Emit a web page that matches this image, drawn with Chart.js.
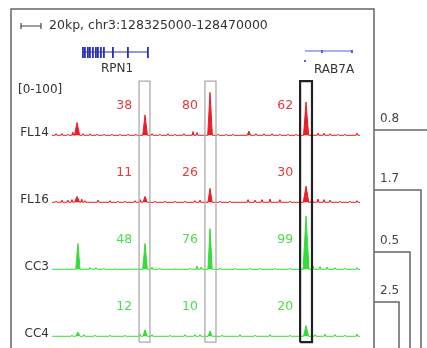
<!DOCTYPE html>
<html>
<head>
<meta charset="utf-8">
<script src="https://cdn.jsdelivr.net/npm/chart.js@4"></script>
<style>
  body { margin: 0; background: #fff; }
  canvas { display: block; }
</style>
</head>
<body>
<canvas id="tracks" width="427" height="348"></canvas>
<script>
// region shown, in kb on chr3
const regionStart = 128325;
const regionEnd = 128470;
const headerText = "20kp, chr3:128325000-128470000";
const rangeLabel = "[0-100]";

const trackNames = ["FL14", "FL16", "CC3", "CC4"];
const trackColors = ["#ee1c24", "#ee1c24", "#33dd33", "#33dd33"];
const textColors = ["#e8383d", "#e8383d", "#4cdc4c", "#4cdc4c"];
// each track gets its own slot on the y axis
const trackOffsets = [375, 250, 125, 0];

// peaks: [position kb, signal, half width kb]
const fl14Peaks = [
  [128326.9, 3], [128329.7, 3], [128332.5, 2], [128334.8, 6], [128336.8, 24, 1.2],
  [128339.6, 3], [128342.9, 3], [128346.2, 2], [128349.5, 2], [128353.2, 2],
  [128357.0, 2], [128360.8, 2], [128364.5, 2], [128368.8, 38, 1.1], [128372.1, 3],
  [128375.8, 2], [128379.6, 3], [128382.9, 2], [128387.1, 3], [128391.4, 7],
  [128393.3, 5], [128399.4, 80, 1.1], [128403.2, 2], [128406.9, 2], [128410.2, 2],
  [128417.7, 8, 0.8], [128421.0, 3], [128424.8, 3], [128428.6, 3], [128432.3, 2],
  [128436.1, 2], [128439.9, 2], [128444.6, 62, 1.2], [128447.4, 5], [128450.2, 4],
  [128453.1, 4], [128455.9, 3], [128459.6, 2], [128462.9, 2], [128468.6, 4]
];
const fl16Peaks = [
  [128326.9, 2], [128329.7, 4], [128332.5, 4], [128334.4, 5], [128336.8, 11, 1.2],
  [128339.0, 6], [128340.5, 3], [128346.7, 4], [128352.3, 3], [128356.1, 2],
  [128359.4, 2], [128364.1, 3], [128366.6, 5], [128368.8, 11, 1.0], [128373.5, 2],
  [128378.2, 2], [128382.9, 2], [128387.6, 2], [128392.3, 3], [128394.7, 4],
  [128399.4, 26, 1.0], [128404.1, 2], [128408.8, 2], [128417.3, 5], [128420.6, 4],
  [128423.9, 5], [128427.6, 6], [128432.3, 5], [128437.0, 2], [128444.6, 30, 1.3],
  [128447.4, 8], [128450.2, 6], [128453.1, 5], [128455.9, 4], [128460.6, 2],
  [128465.3, 2], [128468.6, 3]
];
const cc3Peaks = [
  [128337.2, 48, 1.0], [128342.9, 3], [128345.7, 3], [128349.5, 2], [128354.7, 1],
  [128361.7, 1], [128368.8, 48, 1.1], [128372.1, 4], [128375.8, 2], [128382.9, 1],
  [128390.0, 2], [128393.3, 6], [128395.2, 4], [128399.4, 76, 1.0], [128404.1, 2],
  [128411.2, 2], [128418.2, 2], [128422.9, 2], [128430.0, 2], [128437.0, 2],
  [128444.6, 99, 1.4], [128447.9, 6], [128451.2, 5], [128454.5, 4], [128458.2, 3],
  [128462.9, 2], [128468.6, 3]
];
const cc4Peaks = [
  [128334.4, 2], [128337.2, 8, 1.0], [128340.1, 3], [128345.2, 2], [128352.3, 2],
  [128359.4, 2], [128366.4, 4], [128368.8, 12, 1.0], [128372.1, 3], [128380.6, 2],
  [128387.6, 3], [128392.3, 3], [128394.7, 3], [128399.4, 10, 0.9], [128405.0, 2],
  [128413.5, 3], [128420.6, 2], [128427.6, 3], [128437.0, 2], [128444.6, 20, 1.2],
  [128448.8, 3], [128453.5, 4], [128458.2, 3], [128462.9, 2], [128468.6, 4]
];
const trackPeaks = [fl14Peaks, fl16Peaks, cc3Peaks, cc4Peaks];

// highlighted regions (kb) and the peak value printed next to each
const boxStarts = [128366.0, 128397.0, 128441.8];
const boxEnds = [128371.1, 128402.2, 128447.4];
const boxColors = ["#aaaaaa", "#aaaaaa", "#222222"];
const boxWidths = [1.3, 1.3, 2.2];
const boxValues = [
  [38, 80, 62],
  [11, 26, 30],
  [48, 76, 99],
  [12, 10, 20]
];

// genes
const rpn1Exons = [128339.6, 128340.5, 128341.9, 128342.9, 128344.3, 128345.7,
  128346.7, 128348.1, 128349.5, 128353.7, 128360.8, 128370.2];
const rab7aStart = 128444.1;
const rab7aEnd = 128466.7;
const rab7aTicks = [128452.1, 128466.2];

// tree on the right
const treeLabels = ["0.8", "1.7", "0.5", "2.5"];

function peaksToPoints(peaks, off) {
  let pts = [{x: regionStart, y: off}];
  let sorted = peaks.slice().sort((a, b) => a[0] - b[0]);
  for (let p of sorted) {
    let hw = p[2] || 0.5;
    pts.push({x: p[0] - hw, y: off});
    pts.push({x: p[0], y: off + p[1]});
    pts.push({x: p[0] + hw, y: off});
  }
  pts.push({x: regionEnd, y: off});
  return pts;
}

let datasets = [];
for (let i = 0; i < trackNames.length; i++) {
  datasets.push({
    label: trackNames[i],
    data: peaksToPoints(trackPeaks[i], trackOffsets[i]),
    borderColor: trackColors[i],
    backgroundColor: trackColors[i],
    borderWidth: 1,
    fill: {value: trackOffsets[i]},
    pointRadius: 0,
    tension: 0,
    order: 2
  });
}
const boxTop = 476;
const boxBottom = -11;
for (let b = 0; b < boxStarts.length; b++) {
  datasets.push({
    label: "box" + b,
    data: [
      {x: boxStarts[b], y: boxBottom}, {x: boxStarts[b], y: boxTop},
      {x: boxEnds[b], y: boxTop}, {x: boxEnds[b], y: boxBottom},
      {x: boxStarts[b], y: boxBottom}
    ],
    borderColor: boxColors[b],
    borderWidth: boxWidths[b],
    fill: false,
    pointRadius: 0,
    tension: 0,
    order: 1
  });
}

const extras = {
  id: "extras",
  afterDraw(chart) {
    const ctx = chart.ctx;
    const xs = chart.scales.x;
    const ys = chart.scales.y;
    ctx.save();

    // frame
    ctx.strokeStyle = "#666";
    ctx.lineWidth = 1.5;
    ctx.beginPath();
    ctx.moveTo(11, 350); ctx.lineTo(11, 9); ctx.lineTo(374, 9); ctx.lineTo(374, 350);
    ctx.stroke();

    // scale bar + header
    ctx.strokeStyle = "#444";
    ctx.lineWidth = 1.2;
    ctx.beginPath();
    ctx.moveTo(21, 23); ctx.lineTo(21, 29);
    ctx.moveTo(21, 26); ctx.lineTo(41, 26);
    ctx.moveTo(41, 23); ctx.lineTo(41, 29);
    ctx.stroke();
    ctx.fillStyle = "#333";
    ctx.font = "12.5px 'DejaVu Sans'";
    ctx.textBaseline = "middle";
    ctx.textAlign = "left";
    ctx.fillText(headerText, 49, 26);

    // RPN1
    const blue = "#2531b5";
    ctx.strokeStyle = blue;
    ctx.lineWidth = 1;
    ctx.beginPath();
    ctx.moveTo(xs.getPixelForValue(rpn1Exons[0]), 52);
    ctx.lineTo(xs.getPixelForValue(rpn1Exons[rpn1Exons.length - 1]), 52);
    ctx.stroke();
    ctx.fillStyle = blue;
    for (let e of rpn1Exons) {
      ctx.fillRect(Math.round(xs.getPixelForValue(e)) - 1, 47, 1.8, 11);
    }
    ctx.fillStyle = "#333";
    ctx.font = "12px 'DejaVu Sans'";
    ctx.textAlign = "center";
    ctx.fillText("RPN1", 117, 69);

    // RAB7A
    ctx.strokeStyle = "#5560d0";
    ctx.lineWidth = 1;
    ctx.beginPath();
    ctx.moveTo(xs.getPixelForValue(rab7aStart), 51);
    ctx.lineTo(xs.getPixelForValue(rab7aEnd), 51);
    ctx.stroke();
    ctx.fillStyle = "#5560d0";
    for (let t of rab7aTicks) {
      ctx.fillRect(xs.getPixelForValue(t) - 1, 50, 2, 3);
    }
    ctx.fillRect(xs.getPixelForValue(rab7aStart) - 1, 60, 2, 2);
    ctx.fillStyle = "#333";
    ctx.textAlign = "left";
    ctx.fillText("RAB7A", 314, 70);

    ctx.fillText(rangeLabel, 18, 90);

    // track names and box values
    for (let i = 0; i < trackNames.length; i++) {
      let base = ys.getPixelForValue(trackOffsets[i]);
      ctx.fillStyle = "#333";
      ctx.font = "12px 'DejaVu Sans'";
      ctx.textAlign = "right";
      ctx.fillText(trackNames[i], 49, base - 2);
      ctx.fillStyle = textColors[i];
      ctx.font = "12.5px 'DejaVu Sans'";
      for (let b = 0; b < boxStarts.length; b++) {
        let px = xs.getPixelForValue(boxStarts[b]) - 7;
        ctx.fillText(String(boxValues[i][b]), px, ys.getPixelForValue(trackOffsets[i] + 55));
      }
    }

    // tree
    const levels = [130, 190, 252, 302];
    const ends = [430, 421, 410, 399];
    ctx.strokeStyle = "#666";
    ctx.lineWidth = 1.5;
    ctx.fillStyle = "#444";
    ctx.font = "12px 'DejaVu Sans'";
    ctx.textAlign = "left";
    for (let k = 0; k < treeLabels.length; k++) {
      ctx.beginPath();
      ctx.moveTo(374, levels[k]);
      ctx.lineTo(ends[k], levels[k]);
      if (k > 0) ctx.lineTo(ends[k], 350);
      ctx.stroke();
      ctx.fillText(treeLabels[k], 380, levels[k] - 11);
    }
    ctx.restore();
  }
};

new Chart(document.getElementById("tracks"), {
  type: "line",
  data: {datasets: datasets},
  options: {
    responsive: false,
    animation: false,
    layout: {padding: {left: 52, right: 67, top: 4, bottom: 1}},
    scales: {
      x: {type: "linear", min: regionStart, max: regionEnd, display: false},
      y: {min: -20, max: 620, display: false}
    },
    plugins: {legend: {display: false}, tooltip: {enabled: false}}
  },
  plugins: [extras]
});
</script>
</body>
</html>
